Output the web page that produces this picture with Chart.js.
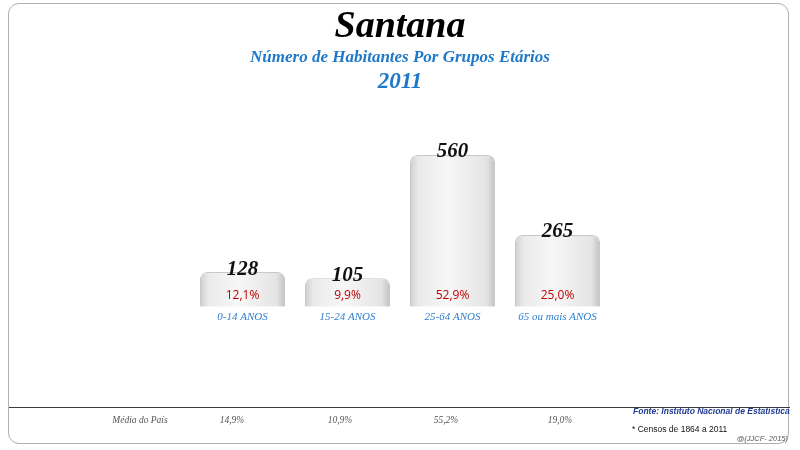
<!DOCTYPE html>
<html>
<head>
<meta charset="utf-8">
<script src="https://cdn.jsdelivr.net/npm/chart.js@4"></script>
<style>
  html, body { margin: 0; padding: 0; background: #fff; }
  #wrap { position: relative; width: 800px; height: 450px; overflow: hidden; background: #fff; }
  #frame { position: absolute; left: 8px; top: 3px; width: 781px; height: 441px; border: 1.5px solid #b0b0b0; border-radius: 11px; box-sizing: border-box; }
  #rule { position: absolute; left: 9px; top: 407px; width: 781px; height: 0; border-top: 1.5px solid #3a3a3a; }
  canvas { position: absolute; left: 0; top: 0; }
  .t { position: absolute; white-space: nowrap; font-family: "Liberation Serif", "Times New Roman", serif; font-style: italic; font-weight: bold; text-align: center; }
  #title { left: 0; width: 800px; top: 2px; font-size: 38px; color: #000; }
  #sub1 { left: 0; width: 800px; top: 47px; font-size: 17px; color: #1f78c8; }
  #sub2 { left: 0; width: 800px; top: 68px; font-size: 23px; color: #1f78c8; }
  .f { position: absolute; white-space: nowrap; font-family: "Liberation Serif", serif; font-style: italic; font-size: 9.5px; color: #555; transform: translateX(-50%); top: 415px; }
  #fonte { position: absolute; left: 633px; top: 406px; font-family: "Liberation Sans", Arial, sans-serif; font-weight: bold; font-style: italic; font-size: 8.5px; color: #1f3a93; white-space: nowrap; }
  #censos { position: absolute; left: 632px; top: 424px; font-family: "Liberation Sans", Arial, sans-serif; font-size: 8.5px; color: #111; white-space: nowrap; }
  #copy { position: absolute; right: 12px; top: 434px; font-family: "Liberation Sans", Arial, sans-serif; font-style: italic; font-size: 7.5px; color: #555; white-space: nowrap; }
</style>
</head>
<body>
<div id="wrap">
  <div id="frame"></div>
  <div id="rule"></div>
  <canvas id="c" width="800" height="450"></canvas>
  <div class="t" id="title">Santana</div>
  <div class="t" id="sub1">Número de Habitantes Por Grupos Etários</div>
  <div class="t" id="sub2">2011</div>
  <div id="fonte">Fonte: Instituto Nacional de Estatística</div>
  <div id="censos">* Censos de 1864 a 2011</div>
  <div id="copy">@(JJCF- 2015)</div>
</div>
<script>
const categories = ["0-14 ANOS", "15-24 ANOS", "25-64 ANOS", "65 ou mais ANOS"];
const habitantes = [128, 105, 560, 265];
const percentLabels = ["12,1%", "9,9%", "52,9%", "25,0%"];
const mediaLabel = "Média do País";
const mediaPais = ["14,9%", "10,9%", "55,2%", "19,0%"];
const mediaX = [140, 232, 340, 446, 560];

// footer "Média do País" row
(function () {
  const wrap = document.getElementById('wrap');
  const items = [mediaLabel].concat(mediaPais);
  items.forEach((txt, i) => {
    const d = document.createElement('div');
    d.className = 'f';
    d.style.left = mediaX[i] + 'px';
    d.textContent = txt;
    wrap.appendChild(d);
  });
})();

const labelsPlugin = {
  id: 'barLabels',
  afterDatasetsDraw(chart) {
    const ctx = chart.ctx;
    const meta = chart.getDatasetMeta(0);
    const bottom = chart.chartArea.bottom;
    ctx.save();
    ctx.textAlign = 'center';
    ctx.textBaseline = 'middle';
    meta.data.forEach((bar, i) => {
      ctx.font = 'italic bold 21px "Liberation Serif", serif';
      ctx.fillStyle = '#111';
      ctx.fillText(String(habitantes[i]), bar.x, bar.y - 3);
      ctx.font = '12px "Open Sans", "Liberation Sans", sans-serif';
      ctx.fillStyle = '#c00000';
      ctx.fillText(percentLabels[i], bar.x, bottom - 11);
    });
    ctx.restore();
  }
};

const BAR_PCT = 0.81;
const ctx = document.getElementById('c').getContext('2d');
new Chart(ctx, {
  type: 'bar',
  data: {
    labels: categories,
    datasets: [{
      data: habitantes,
      backgroundColor: (c) => {
        const xs = c.chart.scales && c.chart.scales.x;
        if (!xs || !isFinite(xs.width) || xs.width <= 0) return '#e6e6e6';
        const cx = xs.getPixelForValue(c.dataIndex);
        const w = xs.width / categories.length * BAR_PCT;
        const g = c.chart.ctx.createLinearGradient(cx - w / 2, 0, cx + w / 2, 0);
        g.addColorStop(0, '#cfcfcf');
        g.addColorStop(0.1, '#eaeaea');
        g.addColorStop(0.45, '#f7f7f7');
        g.addColorStop(0.9, '#e4e4e4');
        g.addColorStop(1, '#c2c2c2');
        return g;
      },
      borderColor: '#c8c8c8',
      borderWidth: 1,
      borderRadius: { topLeft: 7, topRight: 7, bottomLeft: 0, bottomRight: 0 },
      borderSkipped: 'bottom',
      barPercentage: BAR_PCT,
      categoryPercentage: 1.0
    }]
  },
  options: {
    responsive: false,
    animation: false,
    layout: { padding: { left: 190, right: 190, top: 117, bottom: 122 } },
    plugins: { legend: { display: false }, tooltip: { enabled: false }, title: { display: false } },
    scales: {
      x: {
        grid: { display: false, drawTicks: false },
        border: { display: false },
        ticks: {
          color: '#2e7fcf',
          padding: 4,
          font: { family: '"Liberation Serif", serif', style: 'italic', size: 11 }
        }
      },
      y: { display: false, min: 0, max: 700 }
    }
  },
  plugins: [labelsPlugin]
});
</script>
</body>
</html>
